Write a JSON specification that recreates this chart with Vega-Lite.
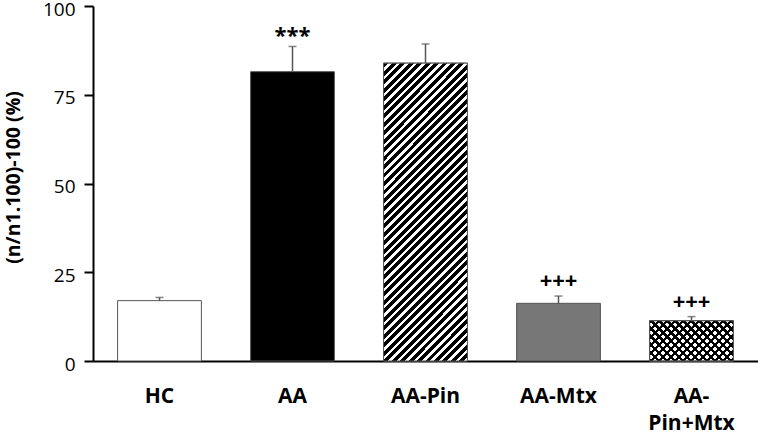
{
  "$schema": "https://vega.github.io/schema/vega-lite/v6.json",
  "width": 665,
  "height": 355,
  "autosize": {"type": "none"},
  "padding": {"left": 93, "top": 6, "right": 0, "bottom": 71},
  "background": "white",
  "config": {"view": {"stroke": null}, "font": "Open Sans"},
  "data": {
    "values": [
      {"group": "HC", "value": 17.0, "upper": 17.9, "ann": ""},
      {"group": "AA", "value": 81.5, "upper": 88.6, "ann": "***"},
      {"group": "AA-Pin", "value": 83.9, "upper": 89.3, "ann": ""},
      {"group": "AA-Mtx", "value": 16.25, "upper": 18.3, "ann": "+++"},
      {"group": "AA-Pin+Mtx", "value": 11.35, "upper": 12.5, "ann": "+++"}
    ]
  },
  "encoding": {
    "x": {
      "field": "group",
      "type": "nominal",
      "sort": null,
      "scale": {"paddingInner": 0.37, "paddingOuter": 0.185},
      "axis": {
        "title": null,
        "labelAngle": 0,
        "labelFont": "Open Sans",
        "labelFontSize": 21,
        "labelFontWeight": "bold",
        "labelColor": "black",
        "labelPadding": 24,
        "labelLineHeight": 27,
        "ticks": false,
        "domainColor": "black",
        "domainWidth": 2,
        "labelExpr": "datum.value == 'AA-Pin+Mtx' ? ['AA-', 'Pin+Mtx'] : datum.value"
      }
    }
  },
  "layer": [
    {
      "mark": {"type": "bar", "stroke": "#555555", "strokeWidth": 1},
      "encoding": {
        "y": {
          "field": "value",
          "type": "quantitative",
          "scale": {"domain": [0, 100], "nice": false},
          "title": "(n/n1.100)-100 (%)",
          "axis": {
            "values": [0, 25, 50, 75, 100],
            "grid": false,
            "tickSize": 9,
            "tickWidth": 2,
            "tickColor": "black",
            "domainColor": "black",
            "domainWidth": 2,
            "labelFont": "Open Sans",
            "labelFontSize": 19,
            "labelColor": "black",
            "labelPadding": 9,
            "labelOffset": 3,
            "titleFont": "Open Sans",
            "titleFontSize": 19.5,
            "titleFontWeight": "bold",
            "titleColor": "black",
            "titleX": -74,
            "titleY": 171,
            "titleAlign": "center",
            "titleBaseline": "alphabetic",
            "titleAngle": -90
          }
        },
        "fill": {
          "field": "group",
          "type": "nominal",
          "scale": {
            "domain": ["HC", "AA", "AA-Pin", "AA-Mtx", "AA-Pin+Mtx"],
            "range": ["#ffffff", "#000000", "#ffffff", "#777777", "#ffffff"]
          },
          "legend": null
        }
      }
    },
    {
      "transform": [{"filter": "datum.group === 'AA-Pin'"}],
      "mark": {
        "type": "bar",
        "stroke": "#555555",
        "strokeWidth": 1,
        "fill": {
          "gradient": "linear",
          "x1": 0, "y1": 0, "x2": 0.3347, "y2": 1.1875,
          "stops": [
            {"offset": 0, "color": "#000"}, {"offset": 0.01289, "color": "#000"}, {"offset": 0.01289, "color": "#fff"}, {"offset": 0.02222, "color": "#fff"},
            {"offset": 0.02222, "color": "#000"}, {"offset": 0.03511, "color": "#000"}, {"offset": 0.03511, "color": "#fff"}, {"offset": 0.04444, "color": "#fff"},
            {"offset": 0.04444, "color": "#000"}, {"offset": 0.05733, "color": "#000"}, {"offset": 0.05733, "color": "#fff"}, {"offset": 0.06667, "color": "#fff"},
            {"offset": 0.06667, "color": "#000"}, {"offset": 0.07956, "color": "#000"}, {"offset": 0.07956, "color": "#fff"}, {"offset": 0.08889, "color": "#fff"},
            {"offset": 0.08889, "color": "#000"}, {"offset": 0.10178, "color": "#000"}, {"offset": 0.10178, "color": "#fff"}, {"offset": 0.11111, "color": "#fff"},
            {"offset": 0.11111, "color": "#000"}, {"offset": 0.124, "color": "#000"}, {"offset": 0.124, "color": "#fff"}, {"offset": 0.13333, "color": "#fff"},
            {"offset": 0.13333, "color": "#000"}, {"offset": 0.14622, "color": "#000"}, {"offset": 0.14622, "color": "#fff"}, {"offset": 0.15556, "color": "#fff"},
            {"offset": 0.15556, "color": "#000"}, {"offset": 0.16844, "color": "#000"}, {"offset": 0.16844, "color": "#fff"}, {"offset": 0.17778, "color": "#fff"},
            {"offset": 0.17778, "color": "#000"}, {"offset": 0.19067, "color": "#000"}, {"offset": 0.19067, "color": "#fff"}, {"offset": 0.2, "color": "#fff"},
            {"offset": 0.2, "color": "#000"}, {"offset": 0.21289, "color": "#000"}, {"offset": 0.21289, "color": "#fff"}, {"offset": 0.22222, "color": "#fff"},
            {"offset": 0.22222, "color": "#000"}, {"offset": 0.23511, "color": "#000"}, {"offset": 0.23511, "color": "#fff"}, {"offset": 0.24444, "color": "#fff"},
            {"offset": 0.24444, "color": "#000"}, {"offset": 0.25733, "color": "#000"}, {"offset": 0.25733, "color": "#fff"}, {"offset": 0.26667, "color": "#fff"},
            {"offset": 0.26667, "color": "#000"}, {"offset": 0.27956, "color": "#000"}, {"offset": 0.27956, "color": "#fff"}, {"offset": 0.28889, "color": "#fff"},
            {"offset": 0.28889, "color": "#000"}, {"offset": 0.30178, "color": "#000"}, {"offset": 0.30178, "color": "#fff"}, {"offset": 0.31111, "color": "#fff"},
            {"offset": 0.31111, "color": "#000"}, {"offset": 0.324, "color": "#000"}, {"offset": 0.324, "color": "#fff"}, {"offset": 0.33333, "color": "#fff"},
            {"offset": 0.33333, "color": "#000"}, {"offset": 0.34622, "color": "#000"}, {"offset": 0.34622, "color": "#fff"}, {"offset": 0.35556, "color": "#fff"},
            {"offset": 0.35556, "color": "#000"}, {"offset": 0.36844, "color": "#000"}, {"offset": 0.36844, "color": "#fff"}, {"offset": 0.37778, "color": "#fff"},
            {"offset": 0.37778, "color": "#000"}, {"offset": 0.39067, "color": "#000"}, {"offset": 0.39067, "color": "#fff"}, {"offset": 0.4, "color": "#fff"},
            {"offset": 0.4, "color": "#000"}, {"offset": 0.41289, "color": "#000"}, {"offset": 0.41289, "color": "#fff"}, {"offset": 0.42222, "color": "#fff"},
            {"offset": 0.42222, "color": "#000"}, {"offset": 0.43511, "color": "#000"}, {"offset": 0.43511, "color": "#fff"}, {"offset": 0.44444, "color": "#fff"},
            {"offset": 0.44444, "color": "#000"}, {"offset": 0.45733, "color": "#000"}, {"offset": 0.45733, "color": "#fff"}, {"offset": 0.46667, "color": "#fff"},
            {"offset": 0.46667, "color": "#000"}, {"offset": 0.47956, "color": "#000"}, {"offset": 0.47956, "color": "#fff"}, {"offset": 0.48889, "color": "#fff"},
            {"offset": 0.48889, "color": "#000"}, {"offset": 0.50178, "color": "#000"}, {"offset": 0.50178, "color": "#fff"}, {"offset": 0.51111, "color": "#fff"},
            {"offset": 0.51111, "color": "#000"}, {"offset": 0.524, "color": "#000"}, {"offset": 0.524, "color": "#fff"}, {"offset": 0.53333, "color": "#fff"},
            {"offset": 0.53333, "color": "#000"}, {"offset": 0.54622, "color": "#000"}, {"offset": 0.54622, "color": "#fff"}, {"offset": 0.55556, "color": "#fff"},
            {"offset": 0.55556, "color": "#000"}, {"offset": 0.56844, "color": "#000"}, {"offset": 0.56844, "color": "#fff"}, {"offset": 0.57778, "color": "#fff"},
            {"offset": 0.57778, "color": "#000"}, {"offset": 0.59067, "color": "#000"}, {"offset": 0.59067, "color": "#fff"}, {"offset": 0.6, "color": "#fff"},
            {"offset": 0.6, "color": "#000"}, {"offset": 0.61289, "color": "#000"}, {"offset": 0.61289, "color": "#fff"}, {"offset": 0.62222, "color": "#fff"},
            {"offset": 0.62222, "color": "#000"}, {"offset": 0.63511, "color": "#000"}, {"offset": 0.63511, "color": "#fff"}, {"offset": 0.64444, "color": "#fff"},
            {"offset": 0.64444, "color": "#000"}, {"offset": 0.65733, "color": "#000"}, {"offset": 0.65733, "color": "#fff"}, {"offset": 0.66667, "color": "#fff"},
            {"offset": 0.66667, "color": "#000"}, {"offset": 0.67956, "color": "#000"}, {"offset": 0.67956, "color": "#fff"}, {"offset": 0.68889, "color": "#fff"},
            {"offset": 0.68889, "color": "#000"}, {"offset": 0.70178, "color": "#000"}, {"offset": 0.70178, "color": "#fff"}, {"offset": 0.71111, "color": "#fff"},
            {"offset": 0.71111, "color": "#000"}, {"offset": 0.724, "color": "#000"}, {"offset": 0.724, "color": "#fff"}, {"offset": 0.73333, "color": "#fff"},
            {"offset": 0.73333, "color": "#000"}, {"offset": 0.74622, "color": "#000"}, {"offset": 0.74622, "color": "#fff"}, {"offset": 0.75556, "color": "#fff"},
            {"offset": 0.75556, "color": "#000"}, {"offset": 0.76844, "color": "#000"}, {"offset": 0.76844, "color": "#fff"}, {"offset": 0.77778, "color": "#fff"},
            {"offset": 0.77778, "color": "#000"}, {"offset": 0.79067, "color": "#000"}, {"offset": 0.79067, "color": "#fff"}, {"offset": 0.8, "color": "#fff"},
            {"offset": 0.8, "color": "#000"}, {"offset": 0.81289, "color": "#000"}, {"offset": 0.81289, "color": "#fff"}, {"offset": 0.82222, "color": "#fff"},
            {"offset": 0.82222, "color": "#000"}, {"offset": 0.83511, "color": "#000"}, {"offset": 0.83511, "color": "#fff"}, {"offset": 0.84444, "color": "#fff"},
            {"offset": 0.84444, "color": "#000"}, {"offset": 0.85733, "color": "#000"}, {"offset": 0.85733, "color": "#fff"}, {"offset": 0.86667, "color": "#fff"},
            {"offset": 0.86667, "color": "#000"}, {"offset": 0.87956, "color": "#000"}, {"offset": 0.87956, "color": "#fff"}, {"offset": 0.88889, "color": "#fff"},
            {"offset": 0.88889, "color": "#000"}, {"offset": 0.90178, "color": "#000"}, {"offset": 0.90178, "color": "#fff"}, {"offset": 0.91111, "color": "#fff"},
            {"offset": 0.91111, "color": "#000"}, {"offset": 0.924, "color": "#000"}, {"offset": 0.924, "color": "#fff"}, {"offset": 0.93333, "color": "#fff"},
            {"offset": 0.93333, "color": "#000"}, {"offset": 0.94622, "color": "#000"}, {"offset": 0.94622, "color": "#fff"}, {"offset": 0.95556, "color": "#fff"},
            {"offset": 0.95556, "color": "#000"}, {"offset": 0.96844, "color": "#000"}, {"offset": 0.96844, "color": "#fff"}, {"offset": 0.97778, "color": "#fff"},
            {"offset": 0.97778, "color": "#000"}, {"offset": 0.99067, "color": "#000"}, {"offset": 0.99067, "color": "#fff"}, {"offset": 1, "color": "#fff"}
          ]
        }
      },
      "encoding": {
        "y": {"field": "value", "type": "quantitative", "title": "(n/n1.100)-100 (%)"}
      }
    },
    {
      "transform": [{"filter": "datum.group === 'AA-Pin+Mtx'"}],
      "mark": {
        "type": "bar",
        "stroke": "#555555",
        "strokeWidth": 1,
        "fill": {
          "gradient": "linear",
          "x1": 0, "y1": 1, "x2": 1.2029, "y2": 0.4229,
          "stops": [
            {"offset": 0, "color": "#000"}, {"offset": 0.0271, "color": "#000"}, {"offset": 0.0271, "color": "#fff"}, {"offset": 0.0645, "color": "#fff"},
            {"offset": 0.0645, "color": "#000"}, {"offset": 0.0916, "color": "#000"}, {"offset": 0.0916, "color": "#fff"}, {"offset": 0.129, "color": "#fff"},
            {"offset": 0.129, "color": "#000"}, {"offset": 0.1561, "color": "#000"}, {"offset": 0.1561, "color": "#fff"}, {"offset": 0.1935, "color": "#fff"},
            {"offset": 0.1935, "color": "#000"}, {"offset": 0.2206, "color": "#000"}, {"offset": 0.2206, "color": "#fff"}, {"offset": 0.258, "color": "#fff"},
            {"offset": 0.258, "color": "#000"}, {"offset": 0.2851, "color": "#000"}, {"offset": 0.2851, "color": "#fff"}, {"offset": 0.3225, "color": "#fff"},
            {"offset": 0.3225, "color": "#000"}, {"offset": 0.3496, "color": "#000"}, {"offset": 0.3496, "color": "#fff"}, {"offset": 0.387, "color": "#fff"},
            {"offset": 0.387, "color": "#000"}, {"offset": 0.4141, "color": "#000"}, {"offset": 0.4141, "color": "#fff"}, {"offset": 0.4515, "color": "#fff"},
            {"offset": 0.4515, "color": "#000"}, {"offset": 0.4786, "color": "#000"}, {"offset": 0.4786, "color": "#fff"}, {"offset": 0.516, "color": "#fff"},
            {"offset": 0.516, "color": "#000"}, {"offset": 0.5431, "color": "#000"}, {"offset": 0.5431, "color": "#fff"}, {"offset": 0.5805, "color": "#fff"},
            {"offset": 0.5805, "color": "#000"}, {"offset": 0.6076, "color": "#000"}, {"offset": 0.6076, "color": "#fff"}, {"offset": 0.645, "color": "#fff"},
            {"offset": 0.645, "color": "#000"}, {"offset": 0.6721, "color": "#000"}, {"offset": 0.6721, "color": "#fff"}, {"offset": 0.7095, "color": "#fff"},
            {"offset": 0.7095, "color": "#000"}, {"offset": 0.7366, "color": "#000"}, {"offset": 0.7366, "color": "#fff"}, {"offset": 0.774, "color": "#fff"},
            {"offset": 0.774, "color": "#000"}, {"offset": 0.8011, "color": "#000"}, {"offset": 0.8011, "color": "#fff"}, {"offset": 0.8385, "color": "#fff"},
            {"offset": 0.8385, "color": "#000"}, {"offset": 0.8656, "color": "#000"}, {"offset": 0.8656, "color": "#fff"}, {"offset": 0.903, "color": "#fff"},
            {"offset": 0.903, "color": "#000"}, {"offset": 0.9301, "color": "#000"}, {"offset": 0.9301, "color": "#fff"}, {"offset": 0.9675, "color": "#fff"},
            {"offset": 0.9675, "color": "#000"}, {"offset": 0.9946, "color": "#000"}, {"offset": 0.9946, "color": "#fff"}, {"offset": 1, "color": "#fff"}
          ]
        }
      },
      "encoding": {
        "y": {"field": "value", "type": "quantitative", "title": "(n/n1.100)-100 (%)"}
      }
    },
    {
      "transform": [{"filter": "datum.group === 'AA-Pin+Mtx'"}],
      "mark": {
        "type": "bar",
        "stroke": "#555555",
        "strokeWidth": 1,
        "fill": {
          "gradient": "linear",
          "x1": 0, "y1": 0, "x2": 1.2029, "y2": 0.5771,
          "stops": [
            {"offset": 0, "color": "#000"}, {"offset": 0.0271, "color": "#000"}, {"offset": 0.0271, "color": "rgba(0,0,0,0)"}, {"offset": 0.0645, "color": "rgba(0,0,0,0)"},
            {"offset": 0.0645, "color": "#000"}, {"offset": 0.0916, "color": "#000"}, {"offset": 0.0916, "color": "rgba(0,0,0,0)"}, {"offset": 0.129, "color": "rgba(0,0,0,0)"},
            {"offset": 0.129, "color": "#000"}, {"offset": 0.1561, "color": "#000"}, {"offset": 0.1561, "color": "rgba(0,0,0,0)"}, {"offset": 0.1935, "color": "rgba(0,0,0,0)"},
            {"offset": 0.1935, "color": "#000"}, {"offset": 0.2206, "color": "#000"}, {"offset": 0.2206, "color": "rgba(0,0,0,0)"}, {"offset": 0.258, "color": "rgba(0,0,0,0)"},
            {"offset": 0.258, "color": "#000"}, {"offset": 0.2851, "color": "#000"}, {"offset": 0.2851, "color": "rgba(0,0,0,0)"}, {"offset": 0.3225, "color": "rgba(0,0,0,0)"},
            {"offset": 0.3225, "color": "#000"}, {"offset": 0.3496, "color": "#000"}, {"offset": 0.3496, "color": "rgba(0,0,0,0)"}, {"offset": 0.387, "color": "rgba(0,0,0,0)"},
            {"offset": 0.387, "color": "#000"}, {"offset": 0.4141, "color": "#000"}, {"offset": 0.4141, "color": "rgba(0,0,0,0)"}, {"offset": 0.4515, "color": "rgba(0,0,0,0)"},
            {"offset": 0.4515, "color": "#000"}, {"offset": 0.4786, "color": "#000"}, {"offset": 0.4786, "color": "rgba(0,0,0,0)"}, {"offset": 0.516, "color": "rgba(0,0,0,0)"},
            {"offset": 0.516, "color": "#000"}, {"offset": 0.5431, "color": "#000"}, {"offset": 0.5431, "color": "rgba(0,0,0,0)"}, {"offset": 0.5805, "color": "rgba(0,0,0,0)"},
            {"offset": 0.5805, "color": "#000"}, {"offset": 0.6076, "color": "#000"}, {"offset": 0.6076, "color": "rgba(0,0,0,0)"}, {"offset": 0.645, "color": "rgba(0,0,0,0)"},
            {"offset": 0.645, "color": "#000"}, {"offset": 0.6721, "color": "#000"}, {"offset": 0.6721, "color": "rgba(0,0,0,0)"}, {"offset": 0.7095, "color": "rgba(0,0,0,0)"},
            {"offset": 0.7095, "color": "#000"}, {"offset": 0.7366, "color": "#000"}, {"offset": 0.7366, "color": "rgba(0,0,0,0)"}, {"offset": 0.774, "color": "rgba(0,0,0,0)"},
            {"offset": 0.774, "color": "#000"}, {"offset": 0.8011, "color": "#000"}, {"offset": 0.8011, "color": "rgba(0,0,0,0)"}, {"offset": 0.8385, "color": "rgba(0,0,0,0)"},
            {"offset": 0.8385, "color": "#000"}, {"offset": 0.8656, "color": "#000"}, {"offset": 0.8656, "color": "rgba(0,0,0,0)"}, {"offset": 0.903, "color": "rgba(0,0,0,0)"},
            {"offset": 0.903, "color": "#000"}, {"offset": 0.9301, "color": "#000"}, {"offset": 0.9301, "color": "rgba(0,0,0,0)"}, {"offset": 0.9675, "color": "rgba(0,0,0,0)"},
            {"offset": 0.9675, "color": "#000"}, {"offset": 0.9946, "color": "#000"}, {"offset": 0.9946, "color": "rgba(0,0,0,0)"}, {"offset": 1, "color": "rgba(0,0,0,0)"}
          ]
        }
      },
      "encoding": {
        "y": {"field": "value", "type": "quantitative", "title": "(n/n1.100)-100 (%)"}
      }
    },
    {
      "mark": {"type": "rule", "color": "#555555", "strokeWidth": 1.5},
      "encoding": {
        "y": {"field": "value", "type": "quantitative", "title": "(n/n1.100)-100 (%)"},
        "y2": {"field": "upper"}
      }
    },
    {
      "mark": {"type": "tick", "color": "#555555", "size": 8, "thickness": 1.5, "orient": "horizontal"},
      "encoding": {
        "y": {"field": "upper", "type": "quantitative", "title": "(n/n1.100)-100 (%)"}
      }
    },
    {
      "transform": [{"filter": "datum.ann === '***'"}],
      "mark": {"type": "text", "font": "Open Sans", "fontSize": 22, "fontWeight": "bold", "color": "black", "baseline": "alphabetic", "align": "center", "dy": -3},
      "encoding": {
        "y": {"field": "upper", "type": "quantitative", "title": "(n/n1.100)-100 (%)"},
        "text": {"field": "ann"}
      }
    },
    {
      "transform": [{"filter": "datum.ann === '+++'"}],
      "mark": {"type": "text", "font": "Open Sans", "fontSize": 22, "fontWeight": "bold", "color": "black", "baseline": "alphabetic", "align": "center", "dy": -8},
      "encoding": {
        "y": {"field": "upper", "type": "quantitative", "title": "(n/n1.100)-100 (%)"},
        "text": {"field": "ann"}
      }
    }
  ]
}
